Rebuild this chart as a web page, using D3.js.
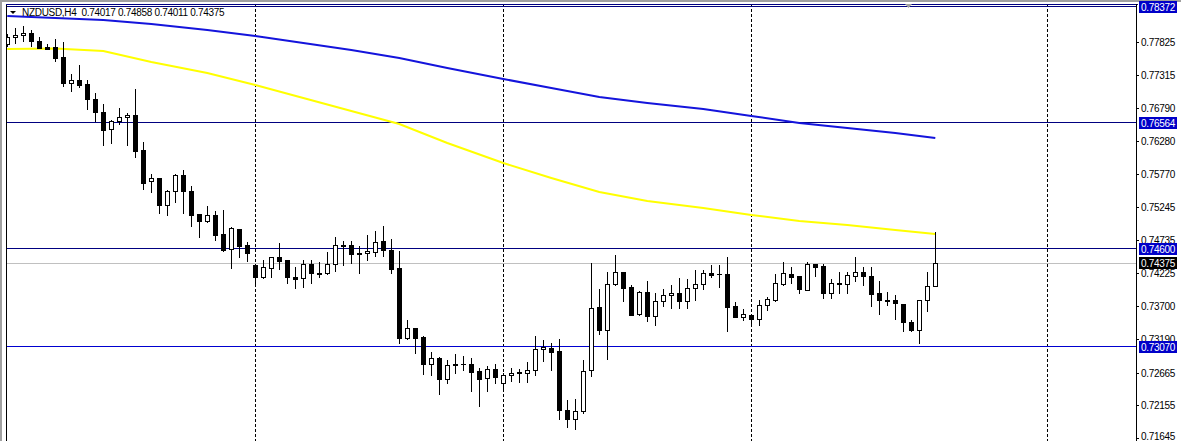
<!DOCTYPE html>
<html>
<head>
<meta charset="utf-8">
<script src="https://cdn.jsdelivr.net/npm/d3@7"></script>
<style>
  body { margin: 0; background: #fff; }
  svg text { font-family: "Liberation Sans", Arial, sans-serif; font-size: 10px; letter-spacing: -0.3px; }
</style>
</head>
<body>
<div id="chart"></div>
<script>
// NZDUSD H4 candles, oldest first
var opens = [0.77794,0.77899,0.77930,0.77961,0.77841,0.77743,0.77743,0.77591,0.77181,0.77228,
  0.77165,0.76936,0.76733,0.76463,0.76588,0.76650,0.76686,0.76140,0.75651,0.75702,
  0.75276,0.75495,0.75749,0.75495,0.75141,0.75027,0.75120,0.74828,0.74589,0.74902,
  0.74652,0.74340,0.74162,0.74302,0.74465,0.74422,0.74162,0.74137,0.74355,0.74220,
  0.74215,0.74355,0.74646,0.74657,0.74532,0.74527,0.74552,0.74714,0.74583,0.74293,
  0.73210,0.73361,0.73220,0.72804,0.72893,0.72570,0.72788,0.72799,0.72799,0.72690,
  0.72576,0.72716,0.72498,0.72623,0.72663,0.72654,0.72701,0.73028,0.73044,0.72997,
  0.72081,0.71936,0.72061,0.72701,0.73684,0.73334,0.74043,0.74230,0.73996,0.73584,
  0.73923,0.73553,0.73778,0.73871,0.73907,0.73778,0.73981,0.74043,0.74220,0.74212,
  0.74204,0.73700,0.73537,0.73559,0.73506,0.73715,0.73798,0.74048,0.74204,0.74173,
  0.73959,0.74360,0.74333,0.73903,0.74063,0.74048,0.74173,0.74230,0.74168,0.73907,
  0.73793,0.73798,0.73731,0.73450,0.73325,0.73793,0.74017];
var highs = [0.77950,0.78044,0.78075,0.78013,0.77899,0.77794,0.77872,0.77825,0.77326,0.77466,
  0.77228,0.77029,0.76858,0.76600,0.76795,0.76717,0.77092,0.76264,0.75765,0.75710,
  0.75515,0.75765,0.75827,0.75578,0.75148,0.75265,0.75187,0.75203,0.74933,0.74906,
  0.74699,0.74360,0.74422,0.74474,0.74693,0.74430,0.74308,0.74422,0.74422,0.74387,
  0.74547,0.74781,0.74719,0.74719,0.74641,0.74813,0.74875,0.74953,0.74750,0.74563,
  0.73486,0.73369,0.73236,0.72986,0.72913,0.72861,0.72955,0.72924,0.72888,0.72732,
  0.72768,0.72804,0.72659,0.72732,0.72726,0.72830,0.73236,0.73169,0.73122,0.73185,
  0.72232,0.72248,0.72857,0.74380,0.73970,0.74230,0.74500,0.74238,0.74032,0.73939,
  0.74095,0.73903,0.73970,0.74032,0.74137,0.74121,0.74262,0.74262,0.74340,0.74344,
  0.74465,0.73771,0.73653,0.73572,0.73798,0.73850,0.74204,0.74391,0.74318,0.74180,
  0.74391,0.74368,0.74360,0.74126,0.74240,0.74235,0.74474,0.74308,0.74308,0.74090,
  0.73923,0.73871,0.73743,0.73491,0.73798,0.74235,0.74858];
var lows = [0.77763,0.77815,0.77846,0.77768,0.77732,0.77708,0.77534,0.77143,0.77065,0.77128,
  0.76784,0.76588,0.76222,0.76254,0.76541,0.76222,0.76026,0.75535,0.75489,0.75151,
  0.75130,0.75328,0.75161,0.74958,0.74786,0.75023,0.74735,0.74571,0.74302,0.74465,
  0.74402,0.74063,0.74137,0.74152,0.74287,0.74068,0.73985,0.74006,0.74068,0.74162,
  0.74199,0.74255,0.74344,0.74380,0.74224,0.74422,0.74485,0.74485,0.74224,0.73131,
  0.73194,0.72966,0.72648,0.72632,0.72335,0.72507,0.72663,0.72705,0.72382,0.72148,
  0.72382,0.72498,0.72393,0.72538,0.72518,0.72523,0.72623,0.72851,0.72705,0.71936,
  0.71820,0.71780,0.72039,0.72616,0.73272,0.72882,0.74035,0.73787,0.73564,0.73569,
  0.73475,0.73412,0.73709,0.73678,0.73678,0.73678,0.73798,0.73974,0.74162,0.74006,
  0.73319,0.73530,0.73486,0.73434,0.73403,0.73637,0.73778,0.74040,0.74068,0.73912,
  0.73954,0.74177,0.73834,0.73834,0.73903,0.73903,0.74099,0.74028,0.73709,0.73575,
  0.73725,0.73506,0.73309,0.73314,0.73131,0.73631,0.74011];
var closes = [0.77903,0.77939,0.77966,0.77836,0.77736,0.77721,0.77580,0.77181,0.77228,0.77159,
  0.76940,0.76728,0.76456,0.76588,0.76650,0.76681,0.76129,0.75629,0.75698,0.75276,
  0.75495,0.75749,0.75495,0.75130,0.75027,0.75120,0.74817,0.74579,0.74917,0.74641,
  0.74536,0.74162,0.74308,0.74465,0.74412,0.74162,0.74131,0.74355,0.74215,0.74212,
  0.74360,0.74652,0.74661,0.74521,0.74511,0.74558,0.74699,0.74579,0.74287,0.73210,
  0.73361,0.73210,0.72804,0.72893,0.72570,0.72783,0.72794,0.72804,0.72679,0.72565,
  0.72716,0.72601,0.72623,0.72654,0.72669,0.72701,0.73028,0.73060,0.72991,0.72076,
  0.71936,0.72061,0.72694,0.73668,0.73334,0.74043,0.74230,0.73990,0.73569,0.73923,
  0.73548,0.73782,0.73871,0.73907,0.73778,0.73981,0.74048,0.74215,0.74193,0.74207,
  0.73693,0.73537,0.73575,0.73506,0.73715,0.73809,0.74059,0.74215,0.74162,0.73965,
  0.74365,0.74318,0.73903,0.74059,0.74056,0.74184,0.74230,0.74168,0.73896,0.73793,
  0.73789,0.73747,0.73450,0.73325,0.73793,0.74012,0.74375];

// moving averages, read at a few bars
var maBars   = [0, 6, 12, 18, 25, 31, 37, 43, 49, 55, 62, 68, 74, 80, 87, 93, 99, 105, 111, 116];
var maBlue   = [0.78231,0.78200,0.78169,0.78106,0.78013,0.77919,0.77810,0.77701,0.77576,0.77420,
  0.77248,0.77107,0.76967,0.76873,0.76780,0.76670,0.76561,0.76483,0.76405,0.76327];
var maYellow = [0.77716,0.77724,0.77685,0.77513,0.77341,0.77154,0.76951,0.76748,0.76545,0.76249,
  0.75937,0.75702,0.75484,0.75343,0.75234,0.75125,0.75031,0.74969,0.74891,0.74828];

var yTicks = [0.77825, 0.77315, 0.76790, 0.76280, 0.75770, 0.75245, 0.74735, 0.74225,
  0.73700, 0.73190, 0.72665, 0.72155, 0.71645];
var levels = [0.78372, 0.76564, 0.74600, 0.73070];
var levelColors = ["#000080", "#000080", "#000080", "#0000d0"];
var bid = 0.74375;
var gridBars = [31, 62, 93, 130];
var title = "NZDUSD,H4  0.74017 0.74858 0.74011 0.74375";

var width = 1181, height = 441;
var plotLeft = 6, plotTop = 4, axisX = 1136;

var svg = d3.select("#chart").append("svg")
    .attr("width", width)
    .attr("height", height);

svg.append("rect").attr("width", width).attr("height", height).attr("fill", "#fff");
// window frame
svg.append("rect").attr("x", 0).attr("y", 0).attr("width", 2).attr("height", height).attr("fill", "#a0a0a0");
svg.append("rect").attr("x", 0).attr("y", 0).attr("width", width).attr("height", 2).attr("fill", "#a0a0a0");

var x = d3.scaleLinear().domain([0, 116]).range([7.3, 935.3]);
var y = d3.scaleLinear().domain([0.71645, 0.77825]).range([438, 42]);

svg.append("clipPath").attr("id", "plotclip")
  .append("rect").attr("x", plotLeft + 1).attr("y", plotTop + 1)
  .attr("width", axisX - plotLeft - 1).attr("height", height - plotTop);

var plot = svg.append("g").attr("clip-path", "url(#plotclip)");

// dashed grid
plot.selectAll(".grid").data(gridBars).enter().append("line")
    .attr("x1", function(d) { return Math.round(x(d)) + 0.5; })
    .attr("x2", function(d) { return Math.round(x(d)) + 0.5; })
    .attr("y1", plotTop).attr("y2", height)
    .attr("stroke", "#000").attr("stroke-dasharray", "3,2");

// bid line
plot.append("line")
    .attr("x1", plotLeft).attr("x2", axisX)
    .attr("y1", Math.round(y(bid)) + 0.5).attr("y2", Math.round(y(bid)) + 0.5)
    .attr("stroke", "#c0c0c0");

// horizontal levels
plot.selectAll(".level").data(levels).enter().append("line")
    .attr("x1", plotLeft).attr("x2", axisX)
    .attr("y1", function(d) { return Math.round(y(d)) - 0.5; })
    .attr("y2", function(d) { return Math.round(y(d)) - 0.5; })
    .attr("stroke", function(d, i) { return levelColors[i]; });

// moving averages
var maLine = d3.line()
    .x(function(d, i) { return x(maBars[i]); })
    .y(function(d) { return y(d); });

plot.append("path").datum(maYellow)
    .attr("fill", "none").attr("stroke", "#ffff00").attr("stroke-width", 2)
    .attr("d", maLine);
plot.append("path").datum(maBlue)
    .attr("fill", "none").attr("stroke", "#1414dc").attr("stroke-width", 2)
    .attr("d", maLine);

// candles
var bars = d3.range(opens.length);
var candle = plot.selectAll(".candle").data(bars).enter().append("g");

candle.append("line")
    .attr("x1", function(i) { return Math.round(x(i)) + 0.5; })
    .attr("x2", function(i) { return Math.round(x(i)) + 0.5; })
    .attr("y1", function(i) { return Math.round(y(highs[i])); })
    .attr("y2", function(i) { return Math.round(y(lows[i])) + 1; })
    .attr("stroke", "#000");

candle.append("rect")
    .each(function(i) {
      var cx = Math.round(x(i));
      var t = Math.round(y(Math.max(opens[i], closes[i])));
      var b = Math.round(y(Math.min(opens[i], closes[i])));
      var r = d3.select(this);
      if (closes[i] > opens[i] && b - t >= 2) {
        r.attr("x", cx - 1.5).attr("y", t + 0.5).attr("width", 4).attr("height", b - t)
         .attr("fill", "#fff").attr("stroke", "#000");
      } else {
        r.attr("x", cx - 2).attr("y", t).attr("width", 5).attr("height", Math.max(1, b - t + 1))
         .attr("fill", "#000");
      }
    });

// chart border
svg.append("line").attr("x1", plotLeft + 0.5).attr("x2", plotLeft + 0.5)
    .attr("y1", plotTop).attr("y2", height).attr("stroke", "#000");
svg.append("line").attr("x1", plotLeft).attr("x2", axisX + 2)
    .attr("y1", plotTop + 0.5).attr("y2", plotTop + 0.5).attr("stroke", "#000080");

// price axis
svg.append("line").attr("x1", axisX + 0.5).attr("x2", axisX + 0.5)
    .attr("y1", plotTop).attr("y2", height).attr("stroke", "#000");

var axis = svg.append("g");
axis.selectAll(".tick").data(yTicks).enter().append("line")
    .attr("x1", axisX).attr("x2", axisX + 3)
    .attr("y1", function(d) { return Math.round(y(d)) + 0.5; })
    .attr("y2", function(d) { return Math.round(y(d)) + 0.5; })
    .attr("stroke", "#000");
axis.selectAll(".lab").data(yTicks).enter().append("text")
    .attr("x", axisX + 5)
    .attr("y", function(d) { return Math.min(height - 1, Math.round(y(d)) + 4); })
    .attr("fill", "#000")
    .text(function(d) { return d.toFixed(5); });

// highlighted labels
var tags = levels.map(function(v) { return {v: v, bg: "#0000c8"}; });
tags.push({v: bid, bg: "#000"});
var tag = axis.selectAll(".tag").data(tags).enter().append("g");
tag.append("rect")
    .attr("x", axisX + 3).attr("width", 38).attr("height", 12)
    .attr("y", function(d) { return Math.max(1, Math.round(y(d.v)) - 6); })
    .attr("fill", function(d) { return d.bg; });
tag.append("text")
    .attr("x", axisX + 5)
    .attr("y", function(d) { return Math.max(1, Math.round(y(d.v)) - 6) + 10; })
    .attr("fill", "#fff")
    .text(function(d) { return d.v.toFixed(5); });

// shift marker
svg.append("path").attr("d", "M905,4L912,4L908.5,8Z").attr("fill", "#a0a0a0");

// title
svg.append("path").attr("d", "M10,11L16,11L13,14Z").attr("fill", "#000");
svg.append("text").attr("x", 22).attr("y", 16).attr("fill", "#000")
    .style("white-space", "pre")
    .text(title);
</script>
</body>
</html>
